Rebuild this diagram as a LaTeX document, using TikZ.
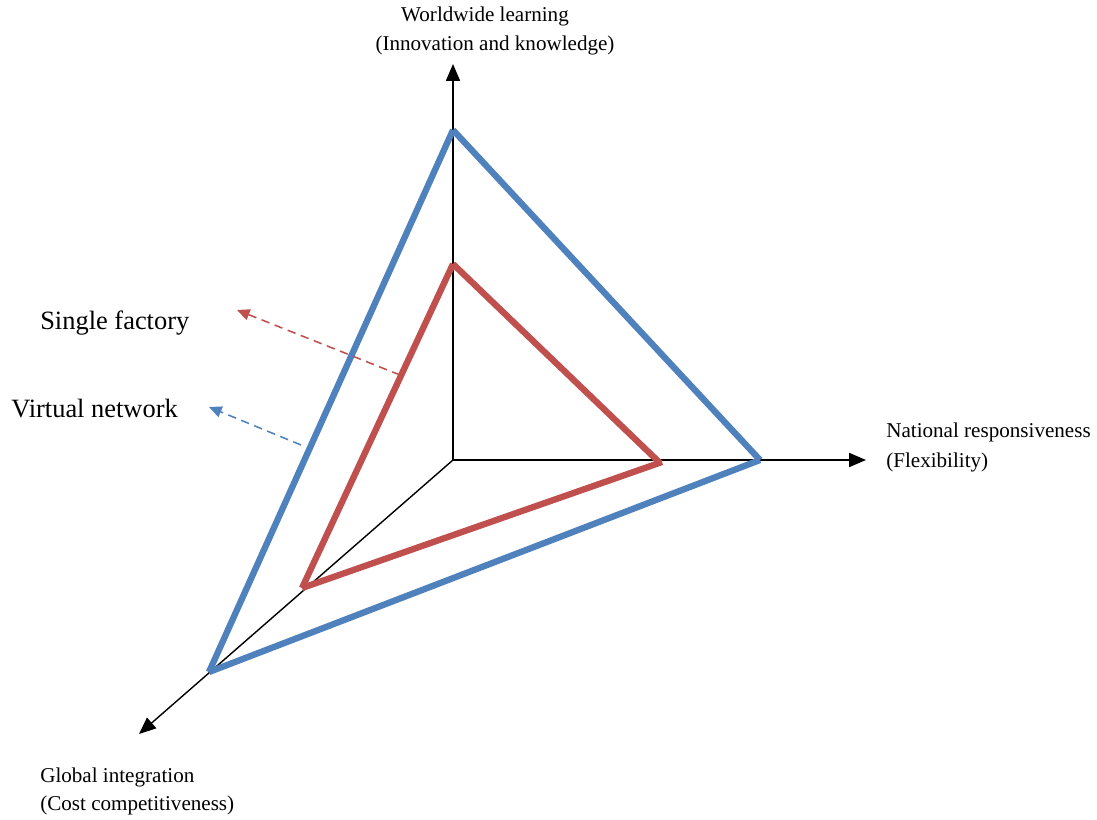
\documentclass[tikz,border=0pt]{standalone}
\usepackage{fontspec}
\setmainfont{Liberation Serif}
\usetikzlibrary{arrows.meta,positioning}
\definecolor{netblue}{RGB}{79,129,189}
\definecolor{facred}{RGB}{192,80,77}
\begin{document}
\begin{tikzpicture}[x=0.025cm, y=-0.025cm,
    axis/.style={line width=1pt, -{Triangle[length=12pt, width=10pt]}},
    side/.style={line width=4.5pt, line cap=butt},
    pointer/.style={line width=1.1pt, dash pattern=on 6pt off 4pt,
      -{Triangle[length=9pt, width=8pt]}},
    label/.style={font=\fontsize{15}{20}\selectfont, inner sep=0pt},
    legend/.style={font=\fontsize{18.8}{22}\selectfont, inner sep=0pt},
  ]
  \useasboundingbox (0,0) rectangle (1097,820);

  % --- axes ---
  \coordinate (o) at (453,460);
  \coordinate (up) at (453,64);
  \coordinate (rt) at (866,460);
  \coordinate (dl) at (139,734);
  \draw[axis] (o) -- (up);
  \draw[axis] (o) -- (rt);
  \draw[axis] (o) -- (dl);

  % --- virtual network (blue) ---
  \coordinate (vtop) at (453,130);
  \coordinate (vrt) at (760,460);
  \coordinate (vdl) at (209,672);
  \draw[side, netblue] (vtop) -- (vrt);
  \draw[side, netblue] (vrt) -- (vdl);
  \draw[side, netblue] (vdl) -- (vtop);

  % --- single factory (red) ---
  \coordinate (stop) at (453,264);
  \coordinate (srt) at (660,463);
  \coordinate (sdl) at (302,588);
  \draw[side, facred] (stop) -- (srt);
  \draw[side, facred] (sdl) -- (662,462);
  \draw[side, facred] (sdl) -- (stop);

  % --- axis labels ---
  \node[label] (wl) at (485,16) {Worldwide learning};
  \node[label] (ik) at (495,45) {(Innovation and knowledge)};
  \node[label, anchor=west] (nr) at (886,432) {National responsiveness};
  \node[label, anchor=west] (fx) at (886,462) {(Flexibility)};
  \node[label, anchor=west] (gi) at (40,777) {Global integration};
  \node[label, anchor=west] (cc) at (40,805) {(Cost competitiveness)};

  % --- legend ---
  \node[legend, anchor=west] (sf) at (40,323) {Single factory};
  \node[legend, anchor=west] (vn) at (11,409) {Virtual network};
  \coordinate (sfend) at (400,375);
  \coordinate (vnend) at (301,445);
  \draw[pointer, facred] (sfend) -- (237,310);
  \draw[pointer, netblue] (vnend) -- (209,407);
\end{tikzpicture}
\end{document}
